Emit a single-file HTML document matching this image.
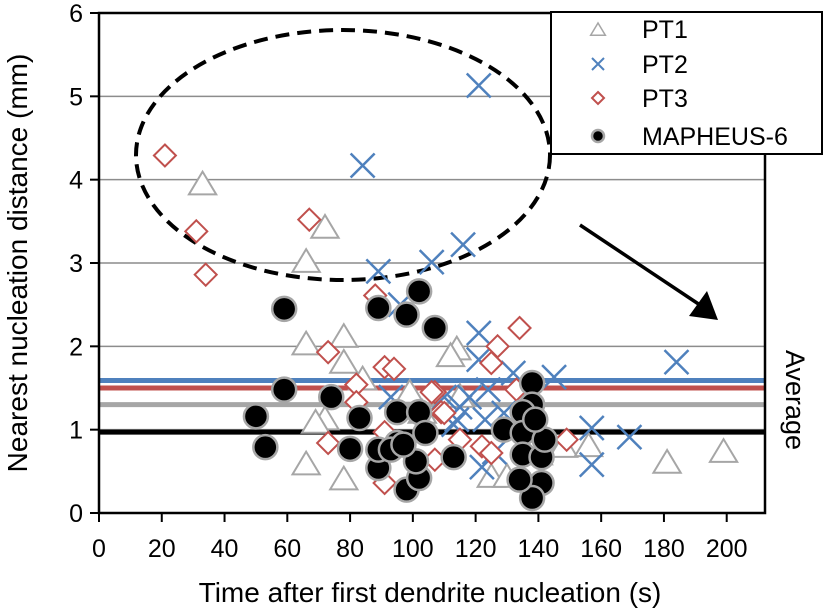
<!DOCTYPE html>
<html><head><meta charset="utf-8"><style>
body{margin:0;background:#fff;font-family:"Liberation Sans",Arial,sans-serif}
</style></head><body>
<svg id="chart" width="825" height="610" xmlns="http://www.w3.org/2000/svg" font-family="Liberation Sans, Arial, sans-serif"></svg>
<script>
const xTicks=[0,20,40,60,80,100,120,140,160,180,200];
const yTicks=[0,1,2,3,4,5,6];
const pt1X=[33,72,66,66,78,78,84,72,69,66,78,99,114,115,112,125,130,148,156,181,199,140,103];
const pt1Y=[3.94,3.42,3.01,2.02,2.11,1.8,1.6,1.12,1.08,0.58,0.4,1.44,1.96,1.39,1.88,0.43,0.43,0.79,0.8,0.6,0.73,0.7,1.2];
const pt2X=[121,84,116,106,89,121,121,124,132,145,157,157,169,184,115,114,113,123,126,122,129,118,93,110,96];
const pt2Y=[5.13,4.17,3.22,3.01,2.9,2.16,1.84,1.48,1.68,1.63,1.02,0.58,0.91,1.81,1.27,1.12,1.06,1.12,0.73,0.55,1.2,1.39,1.39,1.39,2.5];
const pt3X=[21,31,34,67,73,73,91,94,82,82,107,109,91,91,107,88,134,127,125,106,110,115,122,125,149,133];
const pt3Y=[4.29,3.38,2.86,3.52,1.93,0.84,1.75,1.73,1.54,1.33,1.45,1.21,0.36,0.97,0.64,2.61,2.22,2.0,1.8,1.45,1.2,0.88,0.8,0.72,0.88,1.48];
const mapX=[59,59,50,53,74,83,80,89,98,102,107,89,95,102,104,98,102,101,95,89,93,97,113,129,138,138,135,135,135,141,141,138,134,142,139];
const mapY=[2.45,1.48,1.16,0.79,1.39,1.14,0.77,2.46,2.38,2.66,2.22,0.54,1.21,1.21,0.96,0.28,0.42,0.62,0.84,0.76,0.76,0.82,0.67,1.0,1.56,1.3,1.21,0.96,0.7,0.67,0.36,0.18,0.4,0.88,1.12];
const avgVals=[1.59,1.5,1.3,0.97];
const avgColors=["#4f81bd","#c0504d","#a6a6a6","#000"];
const avgNames=["average-pt2","average-pt3","average-pt1","average-mapheus"];

const L=99,R=765,T=13,B=513,XMAX=212.2;
const sx=v=>L+v*(R-L)/XMAX, sy=v=>B-v*(B-T)/6;
const svg=document.getElementById('chart');
const NS="http://www.w3.org/2000/svg";
function mk(tag,attrs,parent){const e=document.createElementNS(NS,tag);for(const k in attrs)e.setAttribute(k,attrs[k]);(parent||svg).appendChild(e);return e;}

yTicks.forEach(v=>{if(v>0&&v<6){const g=mk('line',{x1:L,x2:R,y1:sy(v),y2:sy(v),stroke:'#8c8c8c','stroke-width':1.5});

}
const t=mk('text',{x:L-16,y:sy(v)+9,'text-anchor':'end','font-size':25});t.textContent=v;


mk('line',{x1:L-9,x2:L,y1:sy(v),y2:sy(v),stroke:'#000','stroke-width':2});});
xTicks.forEach(v=>{const t=mk('text',{x:sx(v),y:557,'text-anchor':'middle','font-size':25});t.textContent=v;


mk('line',{x1:sx(v),x2:sx(v),y1:B,y2:B+9,stroke:'#000','stroke-width':2});});

avgVals.forEach((v,i)=>{const l=mk('line',{x1:L,x2:R,y1:sy(v),y2:sy(v),stroke:avgColors[i],'stroke-width':5});

});

const el=mk('ellipse',{cx:343,cy:155,rx:207,ry:125,fill:'none',stroke:'#000','stroke-width':4,'stroke-dasharray':'14 8'});


const ar=mk('g',{});


mk('line',{x1:580,y1:225,x2:700,y2:305,stroke:'#000','stroke-width':3.5},ar);
mk('polygon',{points:'718,320 689,316 707,291',fill:'#000'},ar);

function tri(x,y,s,g,col,w){return mk('polygon',{points:`${x},${y-s} ${x-s*1.05},${y+s*0.75} ${x+s*1.05},${y+s*0.75}`,fill:'#fff',stroke:col,'stroke-width':w},g);}
function cross(x,y,s,g,col,w){return mk('path',{d:`M${x-s},${y-s}L${x+s},${y+s}M${x-s},${y+s}L${x+s},${y-s}`,stroke:col,'stroke-width':w,fill:'none'},g);}
function dia(x,y,s,g,col,w){return mk('polygon',{points:`${x},${y-s} ${x+s},${y} ${x},${y+s} ${x-s},${y}`,fill:'#fff',stroke:col,'stroke-width':w},g);}
function circ(x,y,s,g){return mk('circle',{cx:x,cy:y,r:s,fill:'#000',stroke:'#a6a6a6','stroke-width':2.5},g);}

const g1=mk('g',{});
pt1X.forEach((x,i)=>{const m=tri(sx(x),sy(pt1Y[i]),13,g1,'#a6a6a6',2);

});
const g2=mk('g',{});
pt2X.forEach((x,i)=>{const m=cross(sx(x),sy(pt2Y[i]),12,g2,'#4f81bd',2.5);

});
const g3=mk('g',{});
pt3X.forEach((x,i)=>{const m=dia(sx(x),sy(pt3Y[i]),11,g3,'#c0504d',2);

});
const g4=mk('g',{});
mapX.forEach((x,i)=>{const m=circ(sx(x),sy(mapY[i]),12,g4);

});

const fr=mk('rect',{x:L,y:T,width:R-L,height:B-T,fill:'none',stroke:'#000','stroke-width':2.5});



const lg=mk('g',{});
mk('rect',{x:551,y:12,width:271,height:142,fill:'#fff',stroke:'#000','stroke-width':2},lg);
const names=['PT1','PT2','PT3','MAPHEUS-6'],ly=[29,64,98,136];
tri(598,ly[0]+1,7,lg,'#a6a6a6',1.5);cross(598,ly[1],6,lg,'#4f81bd',2);dia(598,ly[2],6,lg,'#c0504d',2);circ(598,ly[3],6,lg);
names.forEach((n,i)=>{const t=mk('text',{x:642,y:ly[i]+9,'font-size':25},lg);t.textContent=n;

});

const yl=mk('text',{x:0,y:0,'font-size':28,'text-anchor':'middle',transform:'translate(27,263) rotate(-90)'});yl.textContent='Nearest nucleation distance (mm)';

const xl=mk('text',{x:430,y:602,'font-size':28,'text-anchor':'middle'});xl.textContent='Time after first dendrite nucleation (s)';

const av=mk('text',{x:0,y:0,'font-size':27,'text-anchor':'middle',transform:'translate(786,400) rotate(90)'});av.textContent='Average';

</script>
</body></html>
